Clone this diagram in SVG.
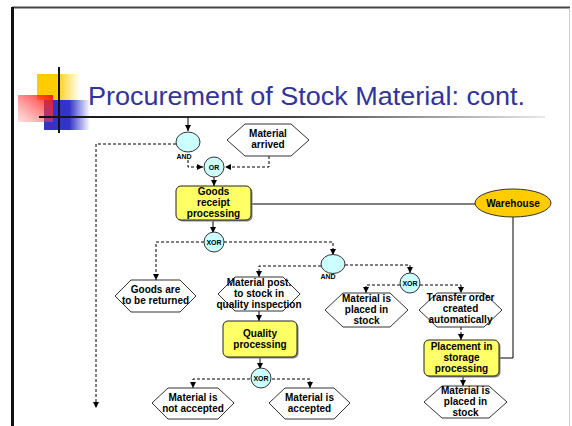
<svg xmlns="http://www.w3.org/2000/svg" width="572" height="426" viewBox="0 0 572 426">
<defs>
<style>
.lbl{font-family:"Liberation Sans",Arial,sans-serif;font-weight:bold;font-size:10px;fill:#000;text-anchor:middle}
.gl{font-family:"Liberation Sans",Arial,sans-serif;font-weight:bold;font-size:7px;fill:#000;text-anchor:middle}
.hex{fill:#fff;stroke:#333;stroke-width:1}
.box{fill:#FFFF66;stroke:#222;stroke-width:1}
.shd{fill:#888}
.gate{fill:#CCFFFF;stroke:#333;stroke-width:1}
.dash{fill:none;stroke:#000;stroke-width:1;stroke-dasharray:3,2}
.solid{fill:none;stroke:#000;stroke-width:1}
</style>
<marker id="ah" markerWidth="6" markerHeight="6" refX="6" refY="3" orient="auto" markerUnits="userSpaceOnUse">
<path d="M0,0 L6,3 L0,6 Z" fill="#000"/>
</marker>
<linearGradient id="gY" x1="0" y1="0" x2="1" y2="0">
<stop offset="0" stop-color="#FFCC00"/><stop offset="0.45" stop-color="#FFCC00"/><stop offset="1" stop-color="#FFCC00" stop-opacity="0"/>
</linearGradient>
<linearGradient id="gB" x1="0" y1="0" x2="1" y2="0">
<stop offset="0" stop-color="#3333CC"/><stop offset="0.55" stop-color="#3333CC"/><stop offset="1" stop-color="#3333CC" stop-opacity="0"/>
</linearGradient>
<linearGradient id="gR" x1="1" y1="0" x2="0" y2="1">
<stop offset="0" stop-color="#FF1111" stop-opacity="0.95"/><stop offset="1" stop-color="#FF6666" stop-opacity="0.2"/>
</linearGradient>
<linearGradient id="gL" gradientUnits="userSpaceOnUse" x1="39" y1="0" x2="545" y2="0">
<stop offset="0" stop-color="#111"/><stop offset="0.5" stop-color="#444"/><stop offset="1" stop-color="#e8e8e8"/>
</linearGradient>
<linearGradient id="gW" gradientUnits="userSpaceOnUse" x1="251" y1="0" x2="476" y2="0">
<stop offset="0" stop-color="#222"/><stop offset="1" stop-color="#999"/>
</linearGradient>
</defs>

<g id="frame">
<line x1="12" y1="7.5" x2="570" y2="7.5" stroke="#444" stroke-width="2"/>
<line x1="12.5" y1="7" x2="12.5" y2="426" stroke="#111" stroke-width="3"/>
<line x1="569.5" y1="8" x2="569.5" y2="426" stroke="#ccc" stroke-width="1"/>
</g>

<g id="decoration">
<rect x="37" y="74" width="43" height="26" fill="url(#gY)"/>
<rect x="44" y="100" width="46" height="30" fill="url(#gB)"/>
<rect x="18" y="95" width="35" height="27" fill="url(#gR)"/>
<line x1="59" y1="67" x2="59" y2="133" stroke="#111" stroke-width="2"/>
<line x1="39" y1="117" x2="545" y2="117" stroke="url(#gL)" stroke-width="2"/>
</g>

<text id="title" x="88" y="105" font-family="Liberation Sans, Arial, sans-serif" font-size="25" fill="#333399" textLength="437" lengthAdjust="spacingAndGlyphs">Procurement of Stock Material: cont.</text>

<g id="connectors">
<path class="solid" d="M188,117 V131" marker-end="url(#ah)"/>
<path class="dash" d="M188,160 V167 H203" marker-end="url(#ah)"/>
<path class="dash" d="M269,156 V167 H225" marker-end="url(#ah)"/>
<path class="dash" d="M176,144 H96 V408" marker-end="url(#ah)"/>
<path class="solid" d="M214,177 V186" marker-end="url(#ah)"/>
<path class="solid" d="M251,204 H476" stroke="url(#gW)"/>
<path class="solid" d="M213,221 V233" marker-end="url(#ah)"/>
<path class="dash" d="M204,242 H156 V280" marker-end="url(#ah)"/>
<path class="dash" d="M224,242 H333 V255" marker-end="url(#ah)"/>
<path class="dash" d="M321,266 H259 V277" marker-end="url(#ah)"/>
<path class="dash" d="M345,265 H410 V273" marker-end="url(#ah)"/>
<path class="dash" d="M400,285 H366 V293" marker-end="url(#ah)"/>
<path class="dash" d="M420,285 H461 V293" marker-end="url(#ah)"/>
<path class="solid" d="M259,311 V321" marker-end="url(#ah)"/>
<path class="solid" d="M260,357 V369" marker-end="url(#ah)"/>
<path class="dash" d="M250,379 H193 V388" marker-end="url(#ah)"/>
<path class="dash" d="M272,379 H310 V388" marker-end="url(#ah)"/>
<path class="dash" d="M461,327 V340" marker-end="url(#ah)"/>
<path class="solid" d="M463,376 V386" marker-end="url(#ah)"/>
<path class="solid" d="M513,217 V358 H499"/>
</g>

<g id="and1">
<ellipse class="gate" cx="188" cy="142" rx="12" ry="10"/>
<text class="gl" x="184" y="159">AND</text>
</g>

<g id="material-arrived">
<polygon class="hex" points="227,140 245,124 291,124 309,140 291,156 245,156"/>
<text class="lbl" x="268" y="137">Material</text>
<text class="lbl" x="268" y="148">arrived</text>
</g>

<g id="or1">
<circle class="gate" cx="214" cy="167" r="10"/>
<text class="gl" x="214" y="170">OR</text>
</g>

<g id="goods-receipt">
<rect class="shd" x="177.5" y="187.5" width="75" height="34" rx="5"/>
<rect class="box" x="176" y="186" width="75" height="34" rx="5"/>
<text class="lbl" x="213.5" y="195">Goods</text>
<text class="lbl" x="213.5" y="206">receipt</text>
<text class="lbl" x="213.5" y="217">processing</text>
</g>

<g id="warehouse">
<ellipse cx="513" cy="203" rx="38" ry="14" fill="#FFCC00" stroke="#333" stroke-width="1"/>
<text class="lbl" x="513" y="207" font-size="10.5">Warehouse</text>
</g>

<g id="xor1">
<circle class="gate" cx="214" cy="242" r="10"/>
<text class="gl" x="214" y="245">XOR</text>
</g>

<g id="goods-returned">
<polygon class="hex" points="115,296 131,280 180,280 196,296 180,312 131,312"/>
<text class="lbl" x="155.5" y="293">Goods are</text>
<text class="lbl" x="155.5" y="304">to be returned</text>
</g>

<g id="and2">
<ellipse class="gate" cx="333" cy="264" rx="12" ry="9.5"/>
<text class="gl" x="328" y="279">AND</text>
</g>

<g id="material-post">
<polygon class="hex" points="218,294 235,277 283,277 300,294 283,311 235,311"/>
<text class="lbl" x="259" y="286">Material post.</text>
<text class="lbl" x="259" y="297">to stock in</text>
<text class="lbl" x="259" y="308">quality inspection</text>
</g>

<g id="xor2">
<circle class="gate" cx="410" cy="283" r="10"/>
<text class="gl" x="410" y="286">XOR</text>
</g>

<g id="material-placed-1">
<polygon class="hex" points="325,310 343,293 390,293 408,310 390,327 343,327"/>
<text class="lbl" x="366.5" y="302">Material is</text>
<text class="lbl" x="366.5" y="313">placed in</text>
<text class="lbl" x="366.5" y="324">stock</text>
</g>

<g id="transfer-order">
<polygon class="hex" points="419,310 437,293 484,293 502,310 484,327 437,327"/>
<text class="lbl" x="460.5" y="301">Transfer order</text>
<text class="lbl" x="460.5" y="312">created</text>
<text class="lbl" x="460.5" y="323">automatically</text>
</g>

<g id="quality">
<rect class="shd" x="224.5" y="322.5" width="74" height="36" rx="5"/>
<rect class="box" x="223" y="321" width="74" height="36" rx="5"/>
<text class="lbl" x="260" y="337">Quality</text>
<text class="lbl" x="260" y="348">processing</text>
</g>

<g id="xor3">
<circle class="gate" cx="261" cy="378" r="10"/>
<text class="gl" x="261" y="381">XOR</text>
</g>

<g id="not-accepted">
<polygon class="hex" points="152,403 168,388 218,388 234,403 218,419 168,419"/>
<text class="lbl" x="193" y="401">Material is</text>
<text class="lbl" x="193" y="412">not accepted</text>
</g>

<g id="accepted">
<polygon class="hex" points="269,403 285,388 334,388 350,403 334,419 285,419"/>
<text class="lbl" x="309.5" y="401">Material is</text>
<text class="lbl" x="309.5" y="412">accepted</text>
</g>

<g id="placement">
<rect class="shd" x="425.5" y="341.5" width="75" height="36" rx="5"/>
<rect class="box" x="424" y="340" width="75" height="36" rx="5"/>
<text class="lbl" x="461.5" y="350">Placement in</text>
<text class="lbl" x="461.5" y="361">storage</text>
<text class="lbl" x="461.5" y="372">processing</text>
</g>

<g id="material-placed-2">
<polygon class="hex" points="424,402 442,386 489,386 507,402 489,418 442,418"/>
<text class="lbl" x="465.5" y="394">Material is</text>
<text class="lbl" x="465.5" y="405">placed in</text>
<text class="lbl" x="465.5" y="416">stock</text>
</g>
</svg>
